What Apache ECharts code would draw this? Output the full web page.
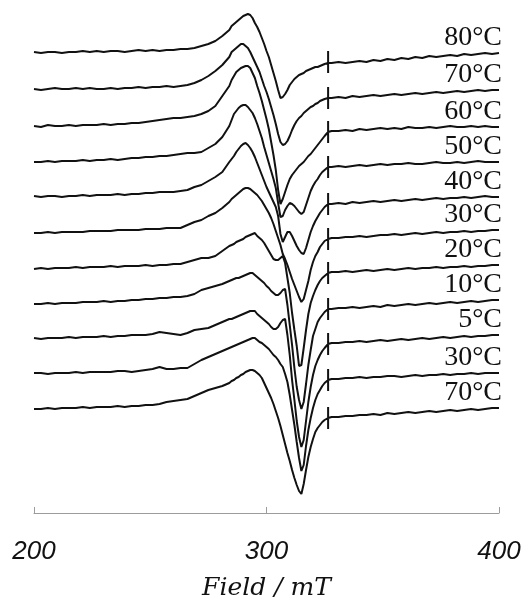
<!DOCTYPE html>
<html>
<head>
<meta charset="utf-8">
<script src="https://cdn.jsdelivr.net/npm/echarts/dist/echarts.min.js"></script>
<style>
  html, body { margin: 0; padding: 0; background: #fff; }
  #chart { width: 525px; height: 597px; }
</style>
</head>
<body>
<div id="chart"></div>
<script>
// magnetic field (mT); the four 326.5 entries are the marker spike
const field = [
  200,203,206,209,212,215,218,221,224,227,230,233,236,239,242,245,248,251,254,257,260,263,266,269,272,275,278,281,284,
  285,286,287,288,289,290,291,292,293,294,295,296,297,298,299,300,301,302,303,304,305,306,307,308,309,310,
  311,312,313,314,315,316,317,318,319,320,321,322,323,324,325,
  326.5,326.5,326.5,326.5,
  328,331,334,337,340,343,346,349,352,355,358,361,364,367,370,373,376,379,382,385,388,391,394,397,400
];

const temps = ['80°C', '70°C', '60°C', '50°C', '40°C', '30°C', '20°C', '10°C', '5°C', '30°C', '70°C'];
// vertical stacking of the spectra (arb. units)
const offsets = [461, 424, 387, 351, 316, 280, 244, 209, 174, 139, 104];

// derivative EPR signal of each spectrum (arb. units)
const s80 = [
  0,-1,0,0,-1,0,0,1,0,1,0,1,1,0,1,2,1,2,1,2,2,3,3,4,6,8,11,16,22,
  26,28,30,32,34,36,37,38,37,34,29,25,20,14,8,1,-5,-13,-21,-29,-38,-46,-45,-42,-38,-33,-30,-27,-25,-23,-22,-21,-19,-18,-17,-16,-15,-15,-14,-13,-12,
  -11,1,-21,-11,
  -11,-10,-11,-10,-9,-10,-8,-9,-7,-8,-6,-7,-5,-6,-4,-5,-4,-3,-4,-2,-3,-2,-1,-2,-1
];
const s70 = [
  0,-1,0,1,0,0,1,0,1,0,0,1,0,1,1,2,1,2,2,3,2,3,4,6,9,13,18,24,32,
  37,39,41,43,45,45,43,41,37,32,27,22,17,10,3,-3,-10,-18,-26,-35,-45,-53,-56,-55,-52,-47,-41,-36,-32,-29,-27,-24,-22,-20,-18,-17,-15,-14,-12,-11,-10,
  -9,2,-20,-9,
  -9,-8,-9,-7,-8,-7,-6,-7,-6,-5,-6,-5,-4,-5,-4,-3,-4,-3,-2,-3,-2,-1,-2,-1,-1
];
const s60 = [
  0,-1,1,0,0,1,0,1,1,1,2,1,2,2,3,3,4,5,6,7,8,8,9,10,12,15,20,30,40,
  46,50,54,56,58,59,60,60,58,53,48,40,33,25,16,7,-3,-16,-29,-44,-64,-78,-73,-66,-59,-53,-49,-46,-43,-40,-38,-36,-33,-30,-28,-25,-22,-19,-16,-13,-10,
  -6,5,-17,-6,
  -5,-5,-4,-5,-3,-4,-3,-2,-3,-2,-3,-1,-2,-2,-1,-2,-1,0,-1,-1,0,-1,0,-1,-1
];
const s50 = [
  0,0,1,0,1,1,1,2,1,2,2,3,2,3,4,4,5,5,6,6,7,8,9,9,10,14,18,25,36,
  42,48,51,54,56,57,57,55,52,49,44,38,31,24,15,7,-1,-9,-17,-26,-41,-55,-54,-48,-44,-41,-42,-44,-47,-50,-52,-50,-43,-36,-29,-24,-20,-17,-13,-10,-8,
  -5,6,-16,-5,
  -5,-4,-5,-4,-3,-4,-3,-2,-3,-2,-2,-1,-2,-2,-1,0,-1,-1,0,-1,0,1,0,0,0
];
const s40 = [
  1,0,1,1,0,1,1,2,1,2,2,2,3,2,3,3,4,4,5,5,5,6,7,10,12,16,20,25,35,
  38,41,45,48,51,53,54,52,49,45,40,34,28,22,16,10,5,0,-5,-10,-19,-37,-45,-40,-35,-35,-39,-44,-49,-53,-56,-57,-51,-43,-35,-29,-24,-20,-16,-13,-10,
  -7,4,-18,-7,
  -7,-6,-7,-5,-6,-5,-4,-5,-4,-3,-4,-3,-2,-3,-2,-1,-2,-1,-1,0,-1,0,1,0,0
];
const s30 = [
  0,0,1,0,1,1,1,1,2,2,2,2,3,3,3,3,4,4,4,5,5,5,8,11,13,17,20,25,31,
  34,36,38,40,42,44,45,45,44,42,40,38,35,32,28,24,20,15,9,2,-5,-12,-21,-26,-32,-39,-46,-52,-58,-64,-69,-66,-57,-48,-37,-29,-23,-19,-14,-11,-8,
  -6,5,-17,-6,
  -5,-5,-4,-4,-3,-4,-3,-2,-2,-1,-2,-1,0,-1,0,1,0,1,1,2,1,2,2,3,3
];
const s20 = [
  0,1,0,1,1,1,2,1,2,2,2,3,2,3,3,3,4,3,4,4,5,5,7,9,11,11,13,18,23,
  24,25,27,28,29,30,32,33,34,35,36,33,31,29,26,22,18,14,10,9,9,11,13,6,-9,-24,-44,-61,-77,-97,-96,-79,-61,-45,-34,-27,-21,-16,-12,-9,-7,
  -4,7,-15,-4,
  -3,-3,-2,-3,-2,-1,-2,-1,0,-1,0,1,0,1,1,2,1,2,2,3,2,3,3,4,4
];
const s10 = [
  0,0,1,0,1,1,1,2,2,2,3,2,3,3,4,4,5,5,6,6,7,7,8,10,14,16,18,20,23,
  24,25,26,26,27,28,29,30,31,31,29,27,25,23,21,18,16,13,11,9,9,11,14,15,-1,-21,-41,-64,-83,-96,-105,-98,-80,-61,-46,-32,-25,-18,-14,-11,-8,
  -5,6,-16,-5,
  -5,-4,-4,-3,-4,-3,-2,-3,-1,-2,-1,0,-1,0,1,0,1,2,1,2,3,2,3,4,4
];
const s5 = [
  1,0,1,1,1,2,1,2,2,2,3,2,3,3,4,4,4,5,7,6,5,4,6,9,10,11,14,17,20,
  20,21,22,23,24,25,26,27,28,28,28,25,23,21,19,17,15,12,10,10,12,16,19,20,4,-16,-41,-61,-82,-98,-108,-101,-82,-63,-48,-36,-27,-21,-16,-12,-9,
  -5,6,-16,-5,
  -4,-4,-3,-3,-2,-3,-2,-1,-2,-1,0,-1,0,1,0,1,2,1,2,3,2,3,3,4,4
];
const s30back = [
  1,1,0,1,1,1,2,1,2,2,2,2,3,3,2,3,4,5,7,5,5,6,6,10,14,17,20,23,26,
  27,28,29,30,31,32,33,34,35,36,36,34,32,31,29,27,25,22,19,17,14,10,7,0,-8,-21,-36,-51,-68,-84,-97,-91,-72,-56,-44,-34,-26,-20,-16,-12,-9,
  -6,5,-17,-6,
  -5,-5,-4,-4,-3,-4,-3,-3,-2,-2,-3,-2,-1,-2,-1,-1,0,-1,0,0,1,0,1,1,1
];
const s70back = [
  0,0,1,0,1,1,1,2,1,2,2,2,3,2,3,3,4,4,5,7,8,9,10,13,16,19,21,23,26,
  28,29,31,32,34,35,37,38,39,39,38,36,34,31,26,21,16,11,5,-2,-9,-17,-26,-35,-44,-52,-61,-69,-76,-82,-85,-75,-61,-48,-38,-30,-23,-19,-16,-13,-11,
  -9,2,-20,-9,
  -8,-8,-7,-7,-6,-6,-5,-6,-4,-5,-4,-3,-4,-3,-2,-3,-2,-1,-2,-1,0,-1,0,1,1
];

const spectra = [s80, s70, s60, s50, s40, s30, s20, s10, s5, s30back, s70back];
spectra.forEach((s, i) => {
  if (s.length !== field.length) console.error('length mismatch', i, s.length, field.length);
});

const chart = echarts.init(document.getElementById('chart'), null, { renderer: 'canvas' });

const series = spectra.map((s, i) => ({
  type: 'line',
  data: field.map((f, j) => [f, s[j] + offsets[i]]),
  symbol: 'none',
  silent: true,
  lineStyle: { color: '#111', width: 2 },
  endLabel: {
    show: true,
    formatter: temps[i],
    align: 'right',
    verticalAlign: 'bottom',
    distance: 3,
    offset: [0, -1],
    fontFamily: 'Liberation Serif',
    fontSize: 28,
    color: '#111'
  }
}));

const option = {
  animation: false,
  backgroundColor: '#fff',
  grid: { left: 34, right: 26, top: 0, bottom: 84, outerBoundsMode: 'none' },
  xAxis: {
    type: 'value',
    min: 200,
    max: 400,
    interval: 100,
    name: 'Field / mT',
    nameLocation: 'middle',
    nameGap: 63,
    nameTextStyle: { fontFamily: 'DejaVu Serif', fontStyle: 'italic', fontSize: 25, color: '#111' },
    axisLine: { lineStyle: { color: '#9c9c9c', width: 1 } },
    axisTick: { inside: true, length: 6, lineStyle: { color: '#9c9c9c' } },
    splitLine: { show: false },
    axisLabel: { fontFamily: 'Liberation Sans', fontStyle: 'italic', fontSize: 26, color: '#111', margin: 26 }
  },
  yAxis: { type: 'value', min: 0, max: 513, show: false },
  series: series
};

chart.setOption(option);
</script>
</body>
</html>
